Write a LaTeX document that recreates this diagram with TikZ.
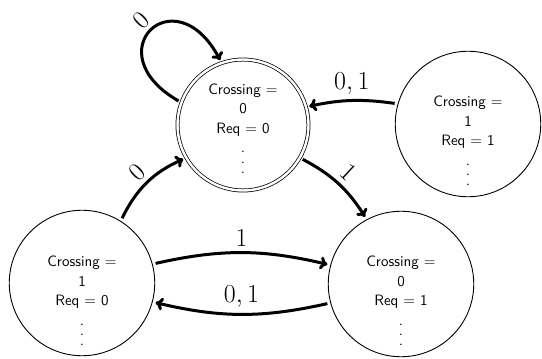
\documentclass[tikz,border=0pt]{standalone}
\usetikzlibrary{arrows.meta}
\newcommand{\mydots}{\vtop{\baselineskip=6.7pt\lineskiplimit=-20pt\hbox{.}\hbox{.}\hbox{.}}}
\begin{document}
\begin{tikzpicture}[x=0.6667pt,y=-0.6667pt,
  state/.style={circle, draw, line width=0.6pt, minimum size=97pt, inner sep=0pt},
  accept/.style={circle, draw, double, double distance=1.6pt, line width=0.5pt, minimum size=87.3pt, inner sep=0pt},
  txt/.style={align=center, inner sep=0pt, font=\sffamily\fontsize{10}{13}\selectfont},
  edge/.style={line width=2pt, shorten <=2pt, shorten >=2pt, -{Computer Modern Rightarrow[length=5pt,width=8.5pt]}},
  lbl/.style={font=\LARGE}]
\useasboundingbox (0,0) rectangle (542,359);
\node[accept] (A) at (243,125) {};
\node[state] (B) at (468,124) {};
\node[state] (C) at (82,283) {};
\node[state] (D) at (401,284) {};
\node[txt] (At) at (243,128.5) {Crossing $=$\\0\\Req $=$ 0\\\mydots};
\node[txt] (Bt) at (468,141) {Crossing $=$\\1\\Req $=$ 1\\\mydots};
\node[txt] (Ct) at (82,301) {Crossing $=$\\1\\Req $=$ 0\\\mydots};
\node[txt] (Dt) at (401,301) {Crossing $=$\\0\\Req $=$ 1\\\mydots};
\draw[edge] (A.160) .. controls +(-87,-50) and +(-47,-88) .. (A.109)
  node[lbl, pos=0.5, above, sloped] (l0) {$0$};
\draw[edge] (C.58) to[bend left=20] node[lbl, above, sloped] (l1) {$0$} (A.210);
\draw[edge] (A.-30) to[bend left=15] node[lbl, above, sloped] (l2) {$1$} (D.118);
\draw[edge] (C.15) to[bend left=13] node[lbl, above] (l3) {$1$} (D.165);
\draw[edge] (D.195) to[bend left=13] node[lbl, above] (l4) {$0,1$} (C.-15);
\draw[edge] (B.164) to[bend right=10] node[lbl, above] (l5) {$0,1$} (A.16);
\end{tikzpicture}
\end{document}
